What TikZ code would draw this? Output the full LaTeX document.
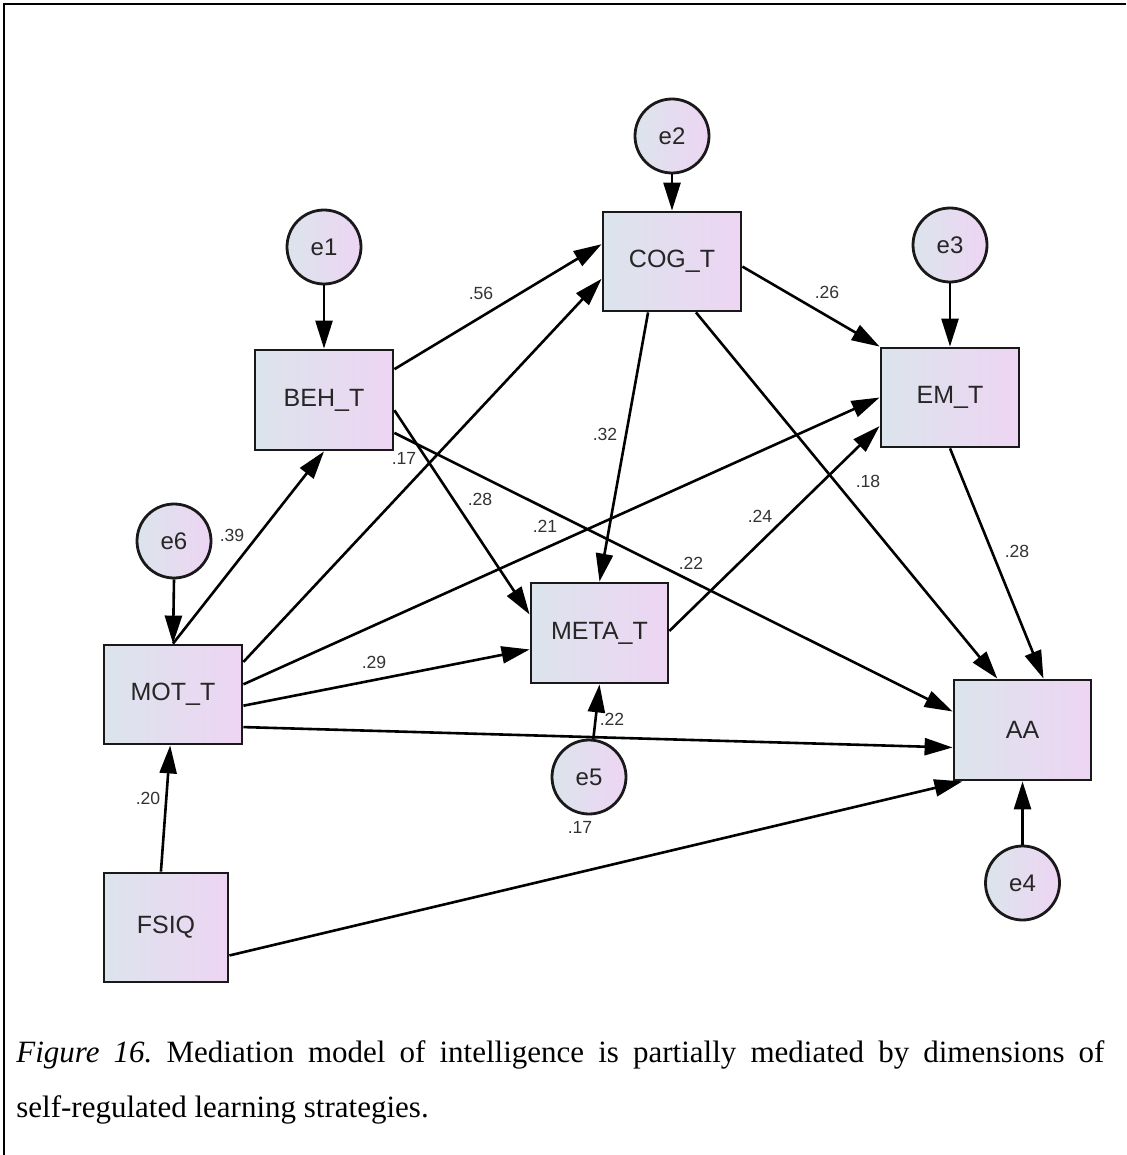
\documentclass[tikz,border=0pt]{standalone}
\usepackage{fontspec}
\setmainfont{Liberation Serif}
\newfontfamily\arialf{Liberation Sans}
\usetikzlibrary{arrows.meta,calc}
\definecolor{shL}{RGB}{220,228,236}
\definecolor{shR}{RGB}{237,213,243}
\definecolor{edgec}{RGB}{25,25,25}
\frenchspacing
\begin{document}
\begin{tikzpicture}[x=0.5pt,y=-0.5pt,
  box/.style={draw=edgec,line width=1.4pt,left color=shL,right color=shR,inner sep=0pt,font=\arialf\fontsize{12.5pt}{14pt}\selectfont,text=black!85},
  err/.style={circle,draw=edgec,line width=1.4pt,left color=shL,right color=shR,inner sep=0pt,minimum size=37pt,font=\arialf\fontsize{12pt}{14pt}\selectfont,text=black!85},
  conn/.style={draw=black,line width=1.3pt,-{Triangle[length=14pt,width=8.5pt]}},
  coef/.style={font=\arialf\fontsize{8.8pt}{10pt}\selectfont,text=black!80,inner sep=0pt},
  capt/.style={anchor=base west,inner sep=0pt,font=\fontsize{15.5pt}{18pt}\selectfont}
]
\useasboundingbox (0,0) rectangle (1126,1155);
\fill[white] (0,0) rectangle (1126,1155);
\draw[line width=1pt] (4,1155) -- (4,4.5) -- (1126,4.5);

% observed variables
\node[box,minimum width=69pt,minimum height=50pt] (beh) at (324,400) {BEH\_T};
\node[box,minimum width=69pt,minimum height=49.5pt] (cog) at (672,261.5) {COG\_T};
\node[box,minimum width=69pt,minimum height=49.5pt] (em) at (950,397.5) {EM\_T};
\node[box,minimum width=68.5pt,minimum height=50pt] (meta) at (599.5,633) {META\_T};
\node[box,minimum width=69pt,minimum height=49.5pt] (mot) at (173,694.5) {MOT\_T};
\node[box,minimum width=62pt,minimum height=54.5pt] (fsiq) at (166,927.5) {FSIQ};
\node[box,minimum width=68.5pt,minimum height=50pt] (aa) at (1022.5,730) {AA};

% error terms
\node[err] (e1) at (324,247) {e1};
\node[err] (e2) at (672,136) {e2};
\node[err] (e3) at (950,245) {e3};
\node[err] (e6) at (174,541) {e6};
\node[err] (e5) at (589,777) {e5};
\node[err] (e4) at (1022.5,883) {e4};

% error paths
\draw[conn] (e1) -- (beh);
\draw[conn] (e2) -- (cog);
\draw[conn] (e3) -- (em);
\draw[conn] (e6.south) -- (mot.north);
\draw[conn] (e4) -- (aa);
\draw[conn] (e5) -- (meta.south);

% structural paths
\draw[conn] (mot.north) -- (beh.south);
\draw[conn] ($(beh.north east)!0.2!(beh.south east)$) -- ($(cog.north west)!0.33!(cog.south west)$);
\draw[conn] ($(beh.north east)!0.6!(beh.south east)$) -- ($(meta.north west)!0.32!(meta.south west)$);
\draw[conn] ($(beh.north east)!0.82!(beh.south east)$) -- ($(aa.north west)!0.32!(aa.south west)$);
\draw[conn] ($(mot.north east)!0.18!(mot.south east)$) -- ($(cog.north west)!0.67!(cog.south west)$);
\draw[conn] ($(mot.north east)!0.40!(mot.south east)$) -- (em.west);
\draw[conn] ($(mot.north east)!0.61!(mot.south east)$) -- ($(meta.north west)!0.66!(meta.south west)$);
\draw[conn] ($(mot.north east)!0.82!(mot.south east)$) -- ($(aa.north west)!0.67!(aa.south west)$);
\draw[conn] ($(fsiq.north west)!0.46!(fsiq.north east)$) -- ($(mot.south west)!0.48!(mot.south east)$);
\draw[conn] ($(fsiq.north east)!0.75!(fsiq.south east)$) -- ($(aa.south west)!0.07!(aa.south east)$);
\draw[conn] ($(cog.north east)!0.55!(cog.south east)$) -- (em.north west);
\draw[conn] ($(cog.south west)!0.33!(cog.south east)$) -- (meta.north);
\draw[conn] ($(cog.south west)!0.67!(cog.south east)$) -- ($(aa.north west)!0.32!(aa.north east)$);
\draw[conn] ($(meta.north east)!0.48!(meta.south east)$) -- ($(em.north west)!0.78!(em.south west)$);
\draw[conn] (em.south) -- ($(aa.north west)!0.65!(aa.north east)$);

% coefficients
\node[coef] (c56) at (481,293) {.56};
\node[coef] (c17a) at (404,458) {.17};
\node[coef] (c28a) at (480,499) {.28};
\node[coef] (c32) at (605,434) {.32};
\node[coef] (c21) at (545,526) {.21};
\node[coef] (c24) at (760,516) {.24};
\node[coef] (c22a) at (691,563) {.22};
\node[coef] (c18) at (868,481) {.18};
\node[coef] (c28b) at (1017,551) {.28};
\node[coef] (c26) at (827,292) {.26};
\node[coef] (c39) at (232,535) {.39};
\node[coef] (c29) at (374,662) {.29};
\node[coef] (c22b) at (612,719) {.22};
\node[coef] (c20) at (148,798) {.20};
\node[coef] (c17b) at (580,827) {.17};

% caption
\node[capt] (cap1) at (16,1062) {\makebox[544pt][s]{\textit{Figure 16.} Mediation model of intelligence is partially mediated by dimensions of}};
\node[capt] (cap2) at (16,1117) {self-regulated learning strategies.};
\end{tikzpicture}
\end{document}
